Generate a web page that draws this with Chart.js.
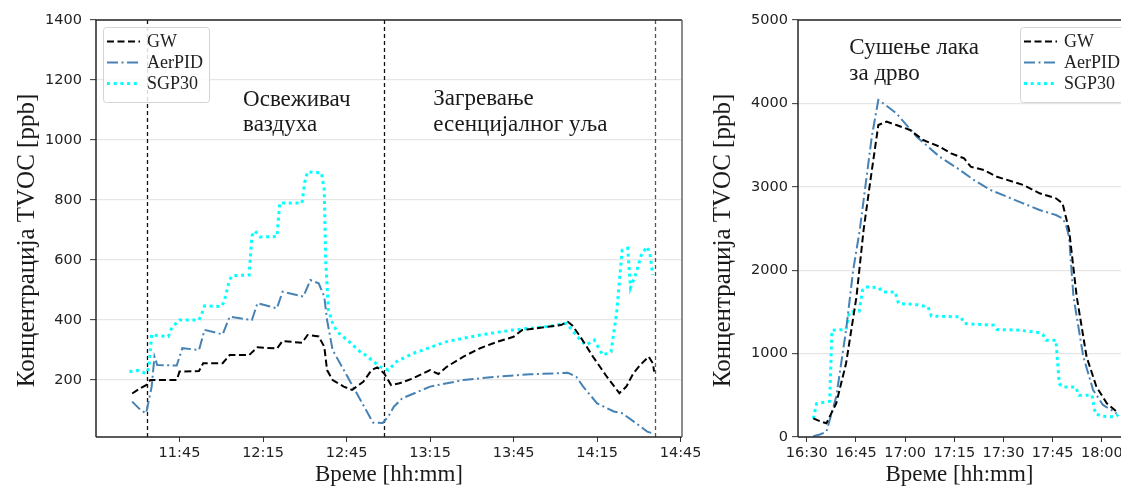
<!DOCTYPE html>
<html><head><meta charset="utf-8">
<script src="https://cdn.jsdelivr.net/npm/chart.js@4"></script>
<style>
html,body{margin:0;padding:0;background:#fff;width:1121px;height:486px;overflow:hidden}
#l{position:absolute;left:0;top:0;width:700px;height:486px}
#r{position:absolute;left:700px;top:0;width:421px;height:486px}
</style></head><body>
<div id="l"><canvas id="cl"></canvas></div>
<div id="r"><canvas id="cr"></canvas></div>
<script>
// ---------- data ----------
const seriesNames = ["GW", "AerPID", "SGP30"];
const yTitle = "Концентрација TVOC [ppb]";
const xTitle = "Време [hh:mm]";

// Left panel
const leftXTicks = ["11:45","12:15","12:45","13:15","13:45","14:15","14:45"];
const leftYTicks = [200,400,600,800,1000,1200,1400];
const leftRange = ["11:15:00","14:45:30"];
const leftYRange = [10,1400];
const leftEvents = ["11:33:20","12:58:30","14:35:50"];
const leftNote1 = ["Освеживач","ваздуха"];
const leftNote2 = ["Загревање","есенцијалног уља"];

const leftGwTimes = ["11:28","11:31","11:33","11:34:30","11:36","11:44","11:45","11:52","11:53:30","12:00:30","12:03","12:10","12:13","12:20","12:22","12:29","12:31","12:35","12:37","12:38","12:40","12:44","12:47","12:51","12:54","12:56","12:57","12:58:30","13:01","13:04","13:09","13:15","13:18","13:21","13:27","13:33","13:39","13:45","13:48","13:57","14:02","14:04:30","14:06","14:09","14:13:30","14:18:30","14:23","14:25:30","14:28","14:30:30","14:33:30","14:35","14:35:30"];
const leftGwValues = [155,173,183,200,200,200,228,230,256,256,283,283,309,305,330,324,350,345,311,233,200,178,167,194,233,242,235,222,183,189,206,233,220,244,278,306,327,344,366,377,383,394,383,344,278,211,156,178,222,250,278,256,228];

const leftPidTimes = ["11:28","11:31","11:33","11:35","11:36","11:37","11:44","11:46","11:52","11:54","12:00:30","12:03","12:11","12:13","12:20","12:22","12:29:30","12:32","12:35","12:37","12:38","12:40","12:46","12:52","12:54:30","12:58","13:00","13:02","13:05","13:15","13:27","13:39","13:51","14:04:30","14:07:30","14:10","14:15","14:21","14:24","14:29","14:33","14:35"];
const leftPidValues = [128,100,89,178,278,250,248,306,300,367,352,411,400,456,439,494,478,533,522,478,400,300,200,100,58,57,78,111,139,178,200,211,219,224,211,178,122,95,89,56,28,22];

const leftSgpTimes = ["11:27","11:30","11:33","11:34","11:35","11:37","11:41","11:42","11:44","11:45","11:52","11:53","11:54","12:00","12:01","12:03","12:04","12:10","12:11","12:12","12:14","12:20","12:21","12:29","12:30","12:31","12:36","12:37","12:37:30","12:38:30","12:40","12:41:30","12:46","12:50","12:52","12:57","13:00","13:03","13:09","13:21","13:33","13:45","13:57","14:04","14:09","14:11","14:14","14:17","14:20","14:22","14:24","14:26","14:27","14:29","14:31","14:33","14:34","14:35"];
const leftSgpValues = [228,232,222,240,352,348,345,370,392,400,400,420,447,445,460,535,548,550,680,697,677,678,790,790,860,894,890,833,600,433,390,362,327,293,282,244,233,262,289,328,350,367,378,389,333,317,333,283,294,422,633,639,507,556,621,644,620,550];

// Right panel
const rightXTicks = ["16:30","16:45","17:00","17:15","17:30","17:45","18:00"];
const rightYTicks = [0,1000,2000,3000,4000,5000];
const rightRange = ["16:27:20","18:05:50"];
const rightYRange = [0,5000];
const rightNote = ["Сушење лака","за дрво"];

const rightGwTimes = ["16:32","16:34","16:36","16:39","16:42","16:45:10","16:47:20","16:49:30","16:51:50","16:54:20","16:57:20","17:01:30","17:05:30","17:10:30","17:14","17:18","17:20","17:24","17:28","17:36","17:41","17:46","17:48","17:49","17:50","17:52:20","17:55:20","17:58:20","18:01:30","18:04:30"];
const rightGwValues = [224,190,164,404,884,1682,2482,3100,3741,3781,3741,3681,3561,3481,3401,3341,3241,3201,3121,3022,2922,2862,2802,2642,2482,1682,963,603,404,304];

const rightPidTimes = ["16:32","16:34","16:36","16:39","16:42","16:44:10","16:46:10","16:49:50","16:51:50","16:53:20","16:57:20","17:03:30","17:10:30","17:16","17:21","17:26","17:31","17:36","17:41","17:46","17:48","17:49","17:50","17:51:20","17:54:20","17:57:20","18:00:20","18:04:30"];
const rightPidValues = [10,30,64,483,1283,2002,2482,3600,4041,4001,3881,3601,3361,3221,3081,2962,2882,2802,2722,2662,2622,2550,2400,1682,963,564,384,284];

const rightSgpTimes = ["16:32","16:33","16:36","16:37","16:37:40","16:42","16:43","16:46","16:47","16:48","16:52","16:53","16:57","16:58","17:03","17:07","17:08","17:17","17:18","17:27","17:28","17:35","17:41","17:42","17:43","17:46","17:47","17:48","17:52","17:53","17:57","17:58","18:00","18:04","18:05"];
const rightSgpValues = [220,400,420,430,1280,1290,1500,1510,1760,1800,1790,1740,1740,1600,1590,1560,1450,1440,1360,1340,1290,1280,1250,1230,1160,1160,640,600,600,500,500,280,250,240,270];

// ---------- helpers ----------
function toMin(s){const p=s.split(':').map(Number);return p[0]*60+p[1]+(p[2]||0)/60;}
function pts(times, vals){return times.map((t,i)=>({x:toMin(t),y:vals[i]}));}

const STYLES = [
  {borderColor:'#000000', borderDash:[7,3.5], borderWidth:2},
  {borderColor:'#4682b4', borderDash:[11,3.5,2,3.5], borderWidth:2},
  {borderColor:'#00ffff', borderDash:[3,3.7], borderWidth:3}
];
function mkDatasets(list){
  return list.map((d,i)=>Object.assign({
    label: seriesNames[i], data: pts(d[0], d[1]),
    pointRadius:0, tension:0, fill:false, borderCapStyle:'butt'
  }, STYLES[i]));
}

const SERIF = "'Liberation Serif', 'Times New Roman', serif";
const SANS = "'DejaVu Sans', sans-serif";

const decor = {
  id:'decor',
  beforeDatasetsDraw(chart){
    const o = chart.options.plugins.decor; const ctx = chart.ctx; const a = chart.chartArea;
    const xs = chart.scales.x;
    ctx.save();
    (o.events||[]).forEach((t,i)=>{
      const px = Math.round(xs.getPixelForValue(toMin(t)))+0.5;
      ctx.beginPath(); ctx.setLineDash([4,3]); ctx.lineWidth=1.3;
      ctx.strokeStyle = i===2 ? '#555' : '#111';
      ctx.moveTo(px,a.top); ctx.lineTo(px,a.bottom); ctx.stroke();
    });
    ctx.restore();
  },
  afterDatasetsDraw(chart){
    const o = chart.options.plugins.decor; const ctx = chart.ctx; const a = chart.chartArea;
    const xs = chart.scales.x, ys = chart.scales.y;
    ctx.save();
    // frame
    ctx.setLineDash([]); ctx.lineWidth = 1.5; ctx.strokeStyle = '#262626';
    ctx.beginPath();
    ctx.moveTo(a.left, a.bottom); ctx.lineTo(a.left, a.top); ctx.lineTo(a.right, a.top);
    ctx.moveTo(a.left, a.bottom); ctx.lineTo(a.right, a.bottom);
    ctx.stroke();
    if (o.rightFrame){ ctx.strokeStyle='#666'; ctx.beginPath(); ctx.moveTo(a.right,a.top); ctx.lineTo(a.right,a.bottom); ctx.stroke(); }
    // y axis title (rotated)
    ctx.save();
    ctx.translate(o.yTitleX, (a.top + a.bottom)/2 + 12);
    ctx.rotate(-Math.PI/2);
    ctx.fillStyle = '#1a1a1a'; ctx.font = '25px ' + SERIF; ctx.textAlign='center'; ctx.textBaseline='middle';
    ctx.fillText(yTitle, 0, 0);
    ctx.restore();
    // notes
    ctx.fillStyle = '#1a1a1a'; ctx.font = '23px ' + SERIF; ctx.textAlign='left'; ctx.textBaseline='alphabetic';
    (o.notes||[]).forEach(n=>{
      const px = xs.getPixelForValue(toMin(n.t)), py = ys.getPixelForValue(n.v);
      n.lines.forEach((s,k)=>ctx.fillText(s, px, py + k*n.gap));
    });
    // legend
    const L = o.legend;
    const x0 = a.left + L.dx, y0 = a.top + L.dy, w = 106, h = 75;
    ctx.beginPath();
    if (ctx.roundRect) ctx.roundRect(x0+0.5, y0+0.5, w, h, 3); else ctx.rect(x0+0.5,y0+0.5,w,h);
    ctx.fillStyle = 'rgba(255,255,255,0.85)'; ctx.fill();
    ctx.lineWidth = 1; ctx.strokeStyle = '#d4d4d4'; ctx.stroke();
    chart.data.datasets.forEach((ds,i)=>{
      const yy = y0 + 14.5 + i*21;
      ctx.beginPath(); ctx.setLineDash(ds.borderDash); ctx.lineWidth = ds.borderWidth;
      ctx.strokeStyle = ds.borderColor; ctx.moveTo(x0+4, yy); ctx.lineTo(x0+37, yy); ctx.stroke();
      ctx.setLineDash([]);
      ctx.fillStyle = '#222'; ctx.font = '18px ' + SERIF; ctx.textBaseline='middle';
      ctx.fillText(ds.label, x0+44, yy+1);
    });
    ctx.restore();
  }
};

function mkOptions(cfg){
  return {
    responsive:true, maintainAspectRatio:false, animation:false,
    layout:{padding:{left:0,right:cfg.padRight,top:20,bottom:0}},
    plugins:{legend:{display:false}, tooltip:{enabled:false}, decor:cfg.decor},
    scales:{
      x:{type:'linear', min:toMin(cfg.xRange[0]), max:toMin(cfg.xRange[1]),
        afterBuildTicks:(s)=>{s.ticks = cfg.xTicks.map(t=>({value:toMin(t)}));},
        afterFit:(s)=>{s.height=49; s.paddingLeft=0; s.paddingRight=0;},
        ticks:{autoSkip:false, maxRotation:0, padding:3, color:'#222', font:{family:SANS,size:14.5},
          callback:(v,i)=>cfg.xTicks[i]},
        grid:{drawOnChartArea:false, drawTicks:true, tickLength:5, tickColor:'#333', tickWidth:1},
        border:{display:false},
        title:{display:true, text:xTitle, color:'#1a1a1a', font:{family:SERIF,size:23,lineHeight:1}, padding:{top:0,bottom:0}}
      },
      y:{type:'linear', min:cfg.yRange[0], max:cfg.yRange[1],
        afterBuildTicks:(s)=>{s.ticks = cfg.yTicks.map(v=>({value:v}));},
        afterFit:(s)=>{s.width=cfg.yWidth; s.paddingTop=0; s.paddingBottom=0;},
        ticks:{padding:cfg.yPad, color:'#222', font:{family:SANS,size:14.5}, callback:(v)=>String(v)},
        grid:{color:'#e6e6e6', lineWidth:1.3, drawTicks:true, tickLength:6, tickColor:'#333', tickWidth:1},
        border:{display:false},
        title:{display:false}
      }
    }
  };
}

new Chart(document.getElementById('cl'), {
  type:'line',
  data:{datasets: mkDatasets([[leftGwTimes,leftGwValues],[leftPidTimes,leftPidValues],[leftSgpTimes,leftSgpValues]])},
  options: mkOptions({padRight:18, xRange:leftRange, xTicks:leftXTicks, yRange:leftYRange, yTicks:leftYTicks,
    yWidth:96, yPad:8,
    decor:{events:leftEvents, rightFrame:true, legend:{dx:7,dy:7}, yTitleX:27,
      notes:[{t:"12:07:50", v:1113, gap:25, lines:leftNote1},{t:"13:16:10", v:1117, gap:26, lines:leftNote2}]}}),
  plugins:[decor]
});

new Chart(document.getElementById('cr'), {
  type:'line',
  data:{datasets: mkDatasets([[rightGwTimes,rightGwValues],[rightPidTimes,rightPidValues],[rightSgpTimes,rightSgpValues]])},
  options: mkOptions({padRight:0, xRange:rightRange, xTicks:rightXTicks, yRange:rightYRange, yTicks:rightYTicks,
    yWidth:98, yPad:4,
    decor:{events:[], rightFrame:false, legend:{dx:222,dy:7}, yTitleX:23,
      notes:[{t:"16:43", v:4592, gap:26, lines:rightNote}]}}),
  plugins:[decor]
});
</script>
</body></html>
